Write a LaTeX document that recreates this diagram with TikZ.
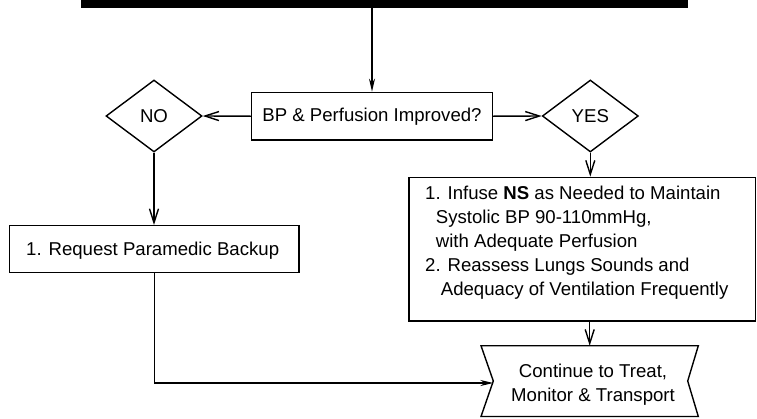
\documentclass[tikz,border=0pt]{standalone}
\usepackage{fontspec}
\setmainfont{Liberation Sans}
\usetikzlibrary{shapes.geometric,arrows.meta}
\begin{document}
\begin{tikzpicture}[x=1pt,y=-1pt,
  every node/.style={font=\fontsize{18.6}{24}\selectfont},
  line/.style={line width=1.4pt, draw=black},
  box/.style={draw=black, line width=1.4pt, rectangle, inner sep=0pt},
  dia/.style={draw=black, line width=1.4pt, diamond, inner sep=0pt, minimum width=96pt, minimum height=72pt},
  arr/.style={line, -{Straight Barb[length=14pt,width=9pt]}},
  arrs/.style={line, -{Stealth[length=13pt,width=6pt]}}
]
\useasboundingbox (0,0) rectangle (757,418);
% top bar
\node[fill=black, inner sep=0pt, minimum width=607pt, minimum height=9pt, anchor=north west] (bar) at (81,-1.5) {};
% decision
\node[box, minimum width=240.6pt, minimum height=47.7pt] (q) at (372,116.2) {BP \& Perfusion Improved?};
\node[dia] (no) at (154,116) {NO};
\node[dia] (yes) at (590.3,116) {YES};
% request
\node[box, minimum width=289.7pt, minimum height=47pt] (req) at (154.2,249.2) {};
\node[anchor=base west, inner sep=0pt] (reqtext) at (26,255) {1. Request Paramedic Backup};
% action box
\node[box, minimum width=346.5pt, minimum height=143.7pt] (act) at (582.3,249.2) {};
\node[anchor=north west, inner sep=0pt, align=left] (acttext) at (425,185.5) {1. Infuse \textbf{NS} as Needed to Maintain\\
\hspace*{10.7pt}Systolic BP 90-110mmHg,\\
\hspace*{10.7pt}with Adequate Perfusion\\
2. Reassess Lungs Sounds and\\
\hspace*{15.7pt}Adequacy of Ventilation Frequently};
% continue shape
\draw[line] (481,345.7) -- (698.3,345.7) -- (687.7,381) -- (698.3,416.5) -- (481,416.5) -- (493.3,381) -- cycle;
\coordinate (contT) at (589.7,345.7);
\coordinate (contL) at (493.3,383);
\node[align=center, inner sep=0pt] (cont) at (593,384.5) {Continue to Treat,\\Monitor \& Transport};
% connectors
\draw[arrs] (bar.south -| q.north) -- (q.north);
\draw[arr] (q.west) -- (no.east);
\draw[arr] (q.east) -- (yes.west);
\draw[arr] (no.south) -- (no.south |- req.north);
\draw[arr] (yes.south) -- (yes.south |- act.north);
\draw[arr] (act.south -| contT) -- (contT);
\draw[arrs] (req.south) |- (contL);
\end{tikzpicture}
\end{document}
